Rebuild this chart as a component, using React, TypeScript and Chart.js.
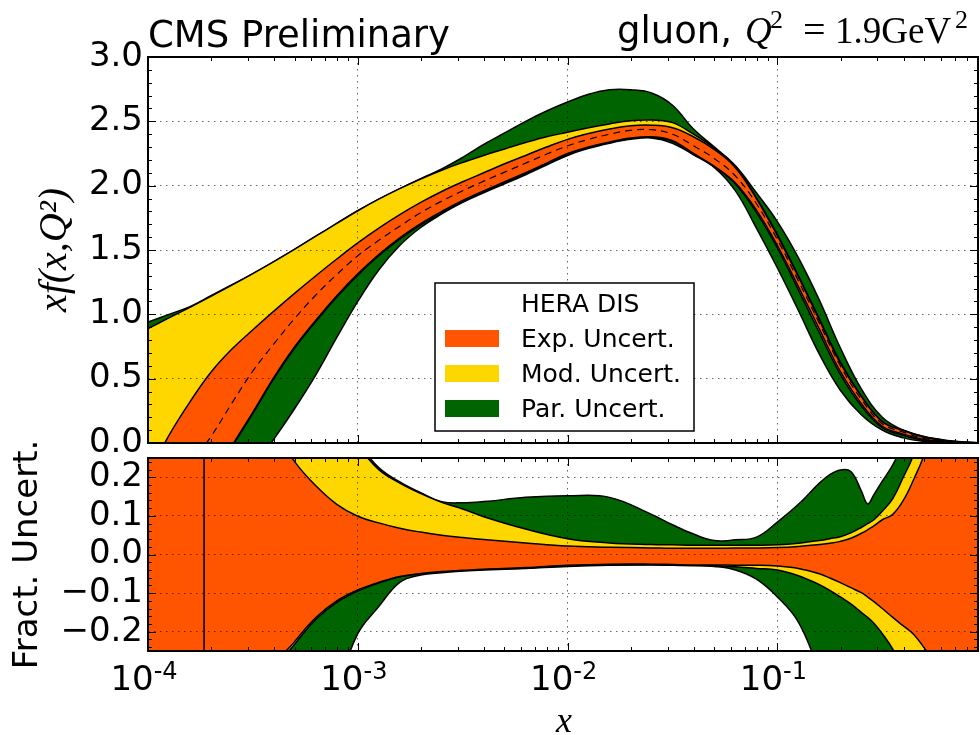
import React, { useEffect, useRef } from "react";
import { Chart, registerables } from "chart.js";

Chart.register(...registerables);

// ---- x sample points (upper panel), one every tenth of a decade ----
const X_GRID = [
  1e-4, 1.259e-4, 1.585e-4, 1.995e-4, 2.512e-4, 3.162e-4, 3.981e-4, 5.012e-4, 6.31e-4, 7.943e-4,
  1e-3, 1.259e-3, 1.585e-3, 1.995e-3, 2.512e-3, 3.162e-3, 3.981e-3, 5.012e-3, 6.31e-3, 7.943e-3,
  1e-2, 1.259e-2, 1.585e-2, 1.995e-2, 2.512e-2, 3.162e-2, 3.981e-2, 5.012e-2, 6.31e-2, 7.943e-2,
  0.1, 0.1259, 0.1585, 0.1995, 0.2512, 0.3162, 0.3981, 0.5012, 0.631, 0.7943,
  0.904,
];

// gluon xf(x,Q^2): central value and band edges
const XF_CENTRAL = [
  -0.6, -0.38, -0.17, 0.05, 0.31, 0.56, 0.77, 0.97, 1.15, 1.31,
  1.455, 1.575, 1.685, 1.79, 1.88, 1.96, 2.035, 2.105, 2.175, 2.245,
  2.31, 2.36, 2.4, 2.43, 2.435, 2.4, 2.31, 2.21, 2.075, 1.86,
  1.58, 1.26, 0.93, 0.6, 0.34, 0.15, 0.085, 0.035, 0.012, 0.003,
  0.001,
];
const XF_EXP_HI = [
  -0.25, 0.06, 0.32, 0.55, 0.73, 0.88, 1.025, 1.165, 1.3, 1.43,
  1.555, 1.67, 1.775, 1.87, 1.955, 2.03, 2.1, 2.17, 2.235, 2.3,
  2.36, 2.405, 2.44, 2.465, 2.47, 2.45, 2.38, 2.28, 2.14, 1.9,
  1.61, 1.29, 0.955, 0.62, 0.36, 0.165, 0.097, 0.044, 0.017, 0.005,
  0.002,
];
const XF_EXP_LO = [
  -1.0, -0.75, -0.5, -0.28, -0.02, 0.24, 0.51, 0.75, 0.955, 1.145,
  1.315, 1.465, 1.595, 1.705, 1.8, 1.885, 1.96, 2.03, 2.1, 2.175,
  2.25, 2.3, 2.34, 2.37, 2.38, 2.35, 2.25, 2.15, 2.02, 1.81,
  1.535, 1.215, 0.885, 0.556, 0.306, 0.129, 0.069, 0.027, 0.008, 0.0015,
  0.0005,
];
const XF_MOD_HI = [
  0.89, 0.972, 1.055, 1.14, 1.227, 1.317, 1.41, 1.507, 1.607, 1.707,
  1.805, 1.895, 1.977, 2.052, 2.12, 2.18, 2.235, 2.285, 2.335, 2.38,
  2.415, 2.45, 2.48, 2.505, 2.51, 2.49, 2.4, 2.29, 2.15, 1.905,
  1.62, 1.3, 0.965, 0.63, 0.365, 0.167, 0.1, 0.048, 0.02, 0.006,
  0.002,
];
const XF_MOD_LO = [
  -1.01, -0.76, -0.51, -0.29, -0.03, 0.23, 0.5, 0.74, 0.945, 1.135,
  1.305, 1.455, 1.585, 1.695, 1.79, 1.875, 1.952, 2.022, 2.093, 2.168,
  2.244, 2.295, 2.335, 2.365, 2.375, 2.345, 2.245, 2.146, 2.013, 1.793,
  1.517, 1.19, 0.857, 0.534, 0.289, 0.119, 0.06, 0.02, 0.005, 0.001,
  0.0003,
];
const XF_PAR_HI = [
  0.94, 1.0, 1.06, 1.145, 1.23, 1.317, 1.41, 1.507, 1.607, 1.707,
  1.805, 1.895, 1.977, 2.055, 2.13, 2.22, 2.32, 2.41, 2.5, 2.58,
  2.65, 2.71, 2.745, 2.745, 2.72, 2.625, 2.44, 2.3, 2.155, 1.945,
  1.72, 1.44, 1.11, 0.74, 0.42, 0.2, 0.1, 0.05, 0.022, 0.007,
  0.002,
];
const XF_PAR_LO = [
  -2.0, -1.6, -1.2, -0.8, -0.45, -0.2, 0.03, 0.27, 0.53, 0.82,
  1.1, 1.345, 1.535, 1.675, 1.78, 1.87, 1.945, 2.015, 2.085, 2.16,
  2.235, 2.29, 2.33, 2.36, 2.37, 2.33, 2.24, 2.14, 1.96, 1.67,
  1.36, 1.03, 0.69, 0.41, 0.22, 0.1, 0.04, 0.012, 0.004, 0.001,
  0.0003,
];

// ---- x sample points (fractional uncertainty panel) ----
const FRAC_X = [
  1e-4, 1.585e-4, 2.512e-4, 3.981e-4, 5.012e-4, 6.31e-4, 7.943e-4, 1e-3, 1.259e-3, 1.585e-3,
  1.995e-3, 2.512e-3, 3.162e-3, 3.981e-3, 6.31e-3, 1e-2, 1.585e-2, 2.512e-2, 3.162e-2, 3.981e-2,
  5.012e-2, 6.31e-2, 7.943e-2, 0.1, 0.1259, 0.1585, 0.1778, 0.1995, 0.2239, 0.2512,
  0.2692, 0.2884, 0.3162, 0.3548, 0.3981, 0.4467, 0.5012, 0.631, 0.7943, 0.904,
];
const FRAC_EXP_HI = [
  0.9, 0.9, 0.9, 0.33, 0.24, 0.178, 0.13, 0.099, 0.082, 0.068,
  0.058, 0.05, 0.044, 0.039, 0.03, 0.022, 0.019, 0.017, 0.016, 0.016,
  0.016, 0.017, 0.017, 0.018, 0.021, 0.026, 0.029, 0.034, 0.042, 0.055,
  0.064, 0.074, 0.09, 0.104, 0.14, 0.195, 0.26, 0.45, 0.8, 1.0,
];
const FRAC_EXP_LO = [
  -0.9, -0.9, -0.9, -0.3, -0.225, -0.163, -0.12, -0.092, -0.072, -0.057,
  -0.049, -0.044, -0.041, -0.038, -0.034, -0.028, -0.025, -0.025, -0.026, -0.027,
  -0.027, -0.028, -0.028, -0.03, -0.036, -0.05, -0.061, -0.073, -0.086, -0.099,
  -0.11, -0.122, -0.14, -0.163, -0.185, -0.207, -0.242, -0.32, -0.5, -0.7,
];
const FRAC_MOD_HI = [
  0.9, 0.9, 0.9, 0.8, 0.6, 0.45, 0.34, 0.28, 0.22, 0.185,
  0.158, 0.135, 0.118, 0.098, 0.066, 0.041, 0.03, 0.026, 0.025, 0.024,
  0.024, 0.024, 0.024, 0.025, 0.029, 0.036, 0.041, 0.046, 0.056, 0.07,
  0.08, 0.09, 0.112, 0.145, 0.2, 0.26, 0.36, 0.6, 0.9, 1.0,
];
const FRAC_MOD_LO = [
  -0.9, -0.9, -0.9, -0.31, -0.232, -0.168, -0.124, -0.095, -0.074, -0.058,
  -0.05, -0.045, -0.042, -0.039, -0.035, -0.029, -0.026, -0.026, -0.027, -0.028,
  -0.029, -0.032, -0.036, -0.04, -0.055, -0.078, -0.093, -0.11, -0.128, -0.15,
  -0.163, -0.178, -0.205, -0.245, -0.3, -0.36, -0.43, -0.6, -0.8, -0.9,
];
const FRAC_PAR_HI = [
  0.95, 0.95, 0.95, 0.85, 0.65, 0.48, 0.36, 0.29, 0.225, 0.188,
  0.16, 0.137, 0.134, 0.137, 0.148, 0.152, 0.148, 0.104, 0.077, 0.053,
  0.036, 0.038, 0.045, 0.084, 0.13, 0.185, 0.207, 0.219, 0.215, 0.165,
  0.131, 0.155, 0.19, 0.232, 0.29, 0.36, 0.45, 0.65, 0.95, 1.0,
];
const FRAC_PAR_LO = [
  -0.95, -0.95, -0.95, -0.85, -0.7, -0.5, -0.35, -0.205, -0.135, -0.072,
  -0.053, -0.047, -0.043, -0.04, -0.036, -0.031, -0.028, -0.027, -0.028, -0.029,
  -0.031, -0.04, -0.064, -0.11, -0.175, -0.3, -0.36, -0.45, -0.55, -0.65,
  -0.7, -0.75, -0.8, -0.85, -0.9, -0.95, -0.95, -0.95, -0.95, -0.95,
];
// x where the central gluon crosses zero (fraction diverges)
const ZERO_CROSS_X = 1.85e-4;
const ZERO_CROSS_Y = [-1, 1];

// ---- axes and labels ----
const X_MIN = 1e-4;
const X_MAX = 0.904;
const X_DECADES = [1e-4, 1e-3, 1e-2, 1e-1];
const X_DECADE_EXPONENTS = ["-4", "-3", "-2", "-1"];
const TOP_Y_TICKS = [0, 0.5, 1.0, 1.5, 2.0, 2.5, 3.0];
const FRAC_Y_TICKS = [-0.2, -0.1, 0.0, 0.1, 0.2];
const LEGEND_TITLE = "HERA DIS";
const LEGEND_LABELS = ["Exp. Uncert.", "Mod. Uncert.", "Par. Uncert."];

const ORANGE = "#ff5500";
const YELLOW = "#ffd700";
const GREEN = "#006400";
const LEGEND_COLORS = [ORANGE, YELLOW, GREEN];
const GRID_COLOR = "rgba(0,0,0,0.6)";
const GRID_DASH = [1.5, 4.5];
const SANS = '"DejaVu Sans", sans-serif';
const SERIF = '"Liberation Serif", serif';
const CURVE_TENSION = 0.4;

const pts = (xs: number[], ys: number[]) => xs.map((x, i) => ({ x, y: ys[i] }));

const fmtTick = (v: number) => {
  if (Math.abs(v) < 1e-9) return "0.0";
  return v < 0 ? "\u2212" + (-v).toFixed(1) : v.toFixed(1);
};

function bandDatasets(xs: number[], hi: number[], lo: number[], color: string, order: number) {
  const common = {
    pointRadius: 0,
    borderColor: "#000",
    borderWidth: 1.5,
    tension: CURVE_TENSION,
  };
  return [
    { ...common, data: pts(xs, hi), fill: "+1", backgroundColor: color, order },
    { ...common, data: pts(xs, lo), fill: false, order: order - 1 },
  ];
}

function drawFrameAndTicks(chart: any, yStepMinor: number, yStepMajor: number) {
  const { ctx, chartArea: a, scales } = chart;
  const xs = scales.x;
  const ys = scales.y;
  ctx.save();
  ctx.strokeStyle = "#000";
  ctx.lineWidth = 1;
  ctx.beginPath();
  for (const d of X_DECADES) {
    for (let m = 1; m <= 9; m++) {
      const v = m * d;
      if (v < X_MIN || v >= X_MAX) continue;
      const px = Math.round(xs.getPixelForValue(v)) + 0.5;
      const len = m === 1 ? 8 : 4;
      ctx.moveTo(px, a.bottom);
      ctx.lineTo(px, a.bottom - len);
      ctx.moveTo(px, a.top);
      ctx.lineTo(px, a.top + len);
    }
  }
  const i0 = Math.ceil(ys.min / yStepMinor - 1e-6);
  const i1 = Math.floor(ys.max / yStepMinor + 1e-6);
  for (let i = i0; i <= i1; i++) {
    const v = i * yStepMinor;
    const r = v / yStepMajor;
    const major = Math.abs(r - Math.round(r)) < 1e-6;
    const len = major ? 8 : 4;
    const py = Math.round(ys.getPixelForValue(v)) + 0.5;
    ctx.moveTo(a.left, py);
    ctx.lineTo(a.left + len, py);
    ctx.moveTo(a.right, py);
    ctx.lineTo(a.right - len, py);
  }
  ctx.stroke();
  ctx.lineWidth = 2;
  ctx.strokeRect(a.left, a.top, a.right - a.left, a.bottom - a.top);
  ctx.restore();
}

const topOverlay = {
  id: "topOverlay",
  afterDraw(chart: any) {
    drawFrameAndTicks(chart, 0.1, 0.5);
    const { ctx } = chart;
    ctx.save();
    ctx.fillStyle = "#000";
    ctx.textAlign = "left";
    ctx.textBaseline = "alphabetic";
    // headers
    ctx.font = `37px ${SANS}`;
    ctx.fillText("CMS Preliminary", 148, 47);
    ctx.fillText("gluon,", 617, 43);
    ctx.font = `italic 37px ${SERIF}`;
    ctx.fillText("Q", 745, 43);
    ctx.font = `26px ${SERIF}`;
    ctx.fillText("2", 770, 28);
    ctx.font = `40px ${SERIF}`;
    ctx.fillText("=", 803, 43);
    ctx.font = `37px ${SERIF}`;
    ctx.fillText("1.9GeV", 835, 43);
    ctx.font = `26px ${SERIF}`;
    ctx.fillText("2", 955, 28);

    // legend box
    const lx = 435, ly = 283, lw = 259, lh = 148;
    ctx.fillStyle = "#fff";
    ctx.fillRect(lx, ly, lw, lh);
    ctx.strokeStyle = "#000";
    ctx.lineWidth = 1.5;
    ctx.strokeRect(lx, ly, lw, lh);
    ctx.fillStyle = "#000";
    ctx.font = `25px ${SANS}`;
    ctx.fillText(LEGEND_TITLE, 521, 312);
    LEGEND_LABELS.forEach((label, i) => {
      const y = 330 + i * 35;
      ctx.fillStyle = LEGEND_COLORS[i];
      ctx.fillRect(445, y, 54, 17);
      ctx.fillStyle = "#000";
      ctx.fillText(label, 521, y + 17);
    });
    ctx.restore();
  },
};

const bottomOverlay = {
  id: "bottomOverlay",
  afterDraw(chart: any) {
    drawFrameAndTicks(chart, 0.02, 0.1);
    const { ctx, scales } = chart;
    ctx.save();
    ctx.fillStyle = "#000";
    ctx.textBaseline = "alphabetic";
    ctx.textAlign = "left";
    X_DECADES.forEach((v, i) => {
      const px = scales.x.getPixelForValue(v);
      ctx.font = `34px ${SANS}`;
      const w1 = ctx.measureText("10").width;
      ctx.font = `24px ${SANS}`;
      const w2 = ctx.measureText(X_DECADE_EXPONENTS[i]).width;
      const x0 = px - 4 - (w1 + w2) / 2;
      ctx.font = `34px ${SANS}`;
      ctx.fillText("10", x0, 690);
      ctx.font = `24px ${SANS}`;
      ctx.fillText(X_DECADE_EXPONENTS[i], x0 + w1, 679);
    });
    ctx.textAlign = "center";
    ctx.font = `italic 36px ${SERIF}`;
    ctx.fillText("x", 564, 732);
    ctx.restore();
  },
};

function xScale() {
  return {
    type: "logarithmic" as const,
    min: X_MIN,
    max: X_MAX,
    afterBuildTicks: (s: any) => {
      s.ticks = X_DECADES.map((v) => ({ value: v, major: true }));
    },
    afterFit: (s: any) => {
      s.height = 0;
    },
    ticks: { display: false },
    grid: { z: 1, color: GRID_COLOR, lineWidth: 1, drawTicks: false },
    border: { display: false, dash: GRID_DASH },
  };
}

function yScale(min: number, max: number, ticks: number[], title: any) {
  return {
    type: "linear" as const,
    min,
    max,
    afterBuildTicks: (s: any) => {
      s.ticks = ticks.map((v) => ({ value: v }));
    },
    afterFit: (s: any) => {
      s.width = 148;
    },
    ticks: {
      color: "#000",
      padding: 5,
      font: { family: SANS, size: 34 },
      callback: (v: any) => fmtTick(Number(v)),
    },
    grid: { z: 1, color: GRID_COLOR, lineWidth: 1, drawTicks: false },
    border: { display: false, dash: GRID_DASH },
    title,
  };
}

const baseOptions = {
  responsive: false,
  animation: false as const,
  devicePixelRatio: 1,
  events: [],
  plugins: { legend: { display: false }, tooltip: { enabled: false } },
};

export default function App() {
  const topRef = useRef<HTMLCanvasElement>(null);
  const botRef = useRef<HTMLCanvasElement>(null);

  useEffect(() => {
    const top = new Chart(topRef.current as HTMLCanvasElement, {
      type: "line",
      data: {
        datasets: [
          ...bandDatasets(X_GRID, XF_PAR_HI, XF_PAR_LO, GREEN, 8),
          ...bandDatasets(X_GRID, XF_MOD_HI, XF_MOD_LO, YELLOW, 6),
          ...bandDatasets(X_GRID, XF_EXP_HI, XF_EXP_LO, ORANGE, 4),
          {
            data: pts(X_GRID, XF_CENTRAL),
            borderColor: "#000",
            borderWidth: 1.2,
            borderDash: [7, 5],
            pointRadius: 0,
            fill: false,
            tension: CURVE_TENSION,
            order: 1,
          },
        ] as any,
      },
      options: {
        ...baseOptions,
        layout: { padding: { left: 0, right: 2, top: 57, bottom: 292 } },
        scales: {
          x: xScale(),
          y: yScale(0, 3, TOP_Y_TICKS, {
            display: true,
            text: "xf(x,Q\u00b2)",
            color: "#000",
            font: { family: SERIF, size: 40, style: "italic", lineHeight: 1 },
            padding: { top: 35, bottom: 0 },
          }),
        },
      } as any,
      plugins: [topOverlay],
    });

    const bot = new Chart(botRef.current as HTMLCanvasElement, {
      type: "line",
      data: {
        datasets: [
          ...bandDatasets(FRAC_X, FRAC_PAR_HI, FRAC_PAR_LO, GREEN, 8),
          ...bandDatasets(FRAC_X, FRAC_MOD_HI, FRAC_MOD_LO, YELLOW, 6),
          ...bandDatasets(FRAC_X, FRAC_EXP_HI, FRAC_EXP_LO, ORANGE, 4),
          {
            data: ZERO_CROSS_Y.map((y) => ({ x: ZERO_CROSS_X, y })),
            borderColor: "#000",
            borderWidth: 1.5,
            pointRadius: 0,
            fill: false,
            tension: 0,
            order: 1,
          },
        ] as any,
      },
      options: {
        ...baseOptions,
        layout: { padding: { left: 0, right: 2, top: 458, bottom: 84 } },
        scales: {
          x: xScale(),
          y: yScale(-0.25, 0.25, FRAC_Y_TICKS, {
            display: true,
            text: "Fract. Uncert.",
            color: "#000",
            font: { family: SANS, size: 34, lineHeight: 1 },
            padding: { top: 11, bottom: 0 },
          }),
        },
      } as any,
      plugins: [bottomOverlay],
    });

    return () => {
      top.destroy();
      bot.destroy();
    };
  }, []);

  return (
    <div style={{ position: "absolute", left: 0, top: 0, width: 980, height: 735, background: "#fff" }}>
      <canvas ref={topRef} width={980} height={735} style={{ position: "absolute", left: 0, top: 0 }} />
      <canvas ref={botRef} width={980} height={735} style={{ position: "absolute", left: 0, top: 0 }} />
    </div>
  );
}
